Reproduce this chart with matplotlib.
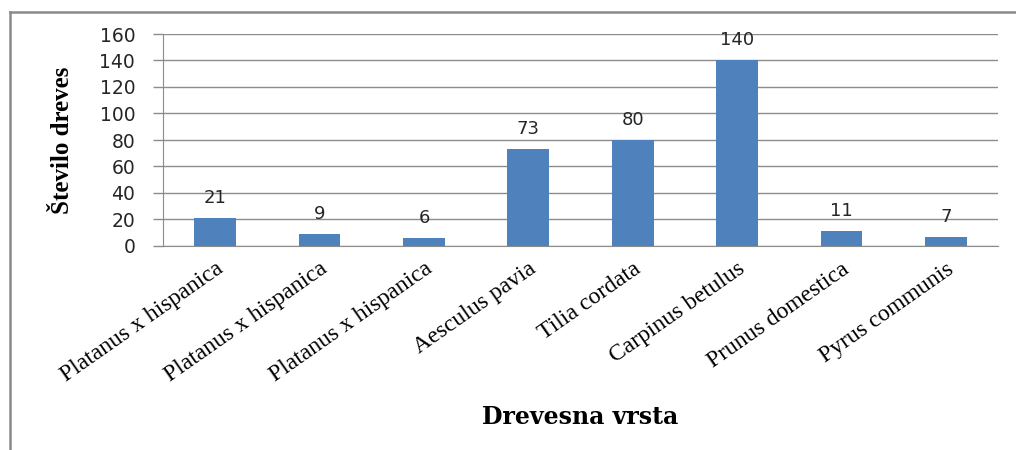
import matplotlib
matplotlib.use("Agg")
import matplotlib.pyplot as plt
from matplotlib.lines import Line2D
import numpy as np

species = [
    "Platanus x hispanica", "Platanus x hispanica", "Platanus x hispanica",
    "Aesculus pavia", "Tilia cordata", "Carpinus betulus",
    "Prunus domestica", "Pyrus communis",
]
counts = [21, 9, 6, 73, 80, 140, 11, 7]
y_ticks = [0, 20, 40, 60, 80, 100, 120, 140, 160]

BAR_COLOR = "#4F81BD"
GRID_COLOR = "#8C8C8C"

fig = plt.figure(figsize=(10.16, 4.5), dpi=100)
ax = fig.add_axes([163 / 1016, 1 - 246 / 450, (998 - 163) / 1016, (246 - 34) / 450])

x = np.arange(len(species))
ax.bar(x, counts, width=0.4, color=BAR_COLOR, zorder=3)
for xi, v in zip(x, counts):
    ax.annotate(str(v), (xi, v), xytext=(0, 8), textcoords="offset points",
                ha="center", va="bottom", fontsize=13, family="DejaVu Sans",
                color="#262626")

ax.set_xlim(-0.5, len(species) - 0.5)
ax.set_ylim(0, 160)
ax.set_yticks(y_ticks)
ax.set_yticklabels([str(t) for t in y_ticks], fontsize=13.5, family="DejaVu Sans",
                   color="#262626")
ax.tick_params(axis="y", length=7, color=GRID_COLOR, pad=13, width=1)
ax.grid(axis="y", color=GRID_COLOR, linewidth=1, zorder=0)

ax.set_xticks(x)
ax.set_xticklabels(species, rotation=35, ha="right", rotation_mode="anchor",
                   fontsize=17, family="Liberation Serif")
ax.tick_params(axis="x", length=0, pad=9)

for side in ["top", "right"]:
    ax.spines[side].set_visible(False)
for side in ["left", "bottom"]:
    ax.spines[side].set_color(GRID_COLOR)

ax.set_ylabel("Število dreves", fontsize=18, fontweight="bold",
              family="Liberation Serif", labelpad=18)
fig.text(580 / 1016, 1 - 417 / 450, "Drevesna vrsta", ha="center", va="center",
         fontsize=17, fontweight="bold", family="DejaVu Serif")

# outer chart frame (cropped on right and bottom)
fx = 10 / 1016
fy = 1 - 12 / 450
fig.add_artist(Line2D([fx, fx], [0, fy], transform=fig.transFigure,
                      color="#8A8A8A", linewidth=1.8))
fig.add_artist(Line2D([fx, 1], [fy, fy], transform=fig.transFigure,
                      color="#8A8A8A", linewidth=1.8))

fig.savefig("out.png", dpi=100)
